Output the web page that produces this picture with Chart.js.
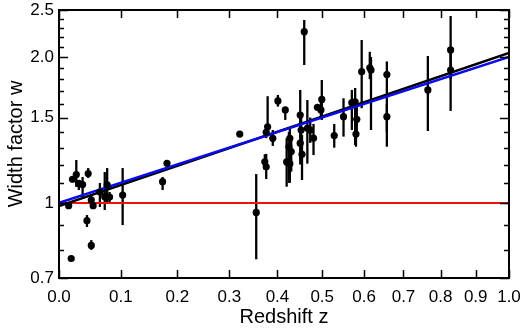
<!DOCTYPE html>
<html>
<head>
<meta charset="utf-8">
<script src="https://cdn.jsdelivr.net/npm/chart.js@4.4.1/dist/chart.umd.min.js"></script>
<style>
  html, body { margin: 0; padding: 0; background: #fff; }
  canvas { display: block; }
</style>
</head>
<body>
<canvas id="c" width="524" height="328"></canvas>
<script>
// redshift z, width factor w and the error bar ends
const zVals = [0.015, 0.019, 0.021, 0.027, 0.031, 0.037, 0.046, 0.044, 0.051, 0.051,
  0.054, 0.065, 0.073, 0.077, 0.081, 0.103, 0.173, 0.181, 0.321, 0.355,
  0.379, 0.376, 0.373, 0.376, 0.390, 0.401, 0.417, 0.427, 0.425, 0.420,
  0.427, 0.430, 0.450, 0.452, 0.450, 0.454, 0.459, 0.466, 0.4725, 0.480,
  0.489, 0.499, 0.497, 0.528, 0.550, 0.570, 0.578, 0.582, 0.580, 0.594,
  0.614, 0.617, 0.657, 0.657, 0.765, 0.828, 0.828];
const wVals = [0.987, 0.768, 1.119, 1.144, 1.097, 1.091, 1.150, 0.919, 0.817, 1.014,
  0.987, 1.053, 1.030, 1.089, 1.028, 1.038, 1.106, 1.207, 1.387, 0.956,
  1.436, 1.398, 1.216, 1.187, 1.359, 1.623, 1.555, 1.359, 1.306, 1.215,
  1.205, 1.276, 1.518, 1.414, 1.328, 1.260, 2.255, 1.425, 1.414, 1.360,
  1.575, 1.635, 1.555, 1.377, 1.506, 1.610, 1.617, 1.488, 1.387, 1.865,
  1.900, 1.880, 1.840, 1.506, 1.710, 2.068, 1.880];
const wLow = [0.975, 0.768, 1.108, 1.079, 1.063, 1.028, 1.126, 0.892, 0.800, 0.981,
  0.975, 0.981, 0.967, 1.000, 1.004, 0.900, 1.063, 1.200, 1.370, 0.765,
  1.400, 1.360, 1.170, 1.120, 1.311, 1.580, 1.483, 1.290, 1.100, 1.080,
  1.100, 1.160, 1.400, 1.280, 1.200, 1.115, 1.925, 1.205, 1.330, 1.255,
  1.550, 1.483, 1.500, 1.300, 1.370, 1.414, 1.317, 1.400, 1.306, 1.568,
  1.800, 1.414, 1.306, 1.400, 1.407, 1.800, 1.548];
const wHigh = [0.998, 0.768, 1.130, 1.226, 1.115, 1.131, 1.180, 0.944, 0.838, 1.038,
  0.998, 1.099, 1.158, 1.180, 1.053, 1.180, 1.131, 1.214, 1.405, 1.147,
  1.660, 1.440, 1.260, 1.262, 1.414, 1.670, 1.570, 1.430, 1.400, 1.360,
  1.300, 1.360, 1.710, 1.520, 1.450, 1.380, 2.384, 1.630, 1.500, 1.455,
  1.600, 1.793, 1.610, 1.455, 1.644, 1.710, 1.726, 1.580, 1.470, 2.168,
  2.050, 2.000, 1.958, 1.600, 2.009, 2.430, 2.050];

// model lines, end points at z = 0 and z = 1
const lineZ = [0, 1];
const blackW = [0.985, 2.04];
const blueW = [1.0, 2.0];
const redW = [1.0, 1.0];

// axis ticks
const xTicks = [0.0, 0.1, 0.2, 0.3, 0.4, 0.5, 0.6, 0.7, 0.8, 0.9, 1.0];
const yTicks = [0.7, 1, 1.5, 2, 2.5];
const yTickLabels = ['0.7', '1', '1.5', '2.0', '2.5'];
const yMinor = [0.8, 0.9, 1.1, 1.2, 1.3, 1.4, 1.6, 1.7, 1.8, 1.9, 2.1, 2.2, 2.3, 2.4];

const FONT = '"Liberation Sans", Arial, Helvetica, sans-serif';
const pts = (xs, ys) => xs.map((z, i) => ({ x: 1 + z, y: ys[i] }));

// error bars under everything, frame and inward ticks on top
const decor = {
  id: 'decor',
  beforeDatasetsDraw(chart) {
    const { ctx, scales: { x, y } } = chart;
    ctx.save();
    ctx.strokeStyle = '#000'; ctx.lineWidth = 2.3;
    zVals.forEach((z, i) => {
      if (wHigh[i] === wLow[i]) return;
      const px = x.getPixelForValue(1 + z);
      ctx.beginPath();
      ctx.moveTo(px, y.getPixelForValue(wHigh[i]));
      ctx.lineTo(px, y.getPixelForValue(wLow[i]));
      ctx.stroke();
    });
    ctx.restore();
  },
  afterDatasetsDraw(chart) {
    const { ctx, chartArea: a, scales: { x, y } } = chart;
    ctx.save();
    ctx.strokeStyle = '#000'; ctx.lineWidth = 1.5;
    ctx.beginPath();
    xTicks.forEach(v => {
      const px = Math.round(x.getPixelForValue(1 + v)) + 0.5;
      ctx.moveTo(px, a.bottom); ctx.lineTo(px, a.bottom - 8);
      ctx.moveTo(px, a.top); ctx.lineTo(px, a.top + 8);
    });
    yTicks.concat(yMinor).forEach(v => {
      const len = yTicks.includes(v) ? 9 : 5;
      const py = Math.round(y.getPixelForValue(v)) + 0.5;
      ctx.moveTo(a.left, py); ctx.lineTo(a.left + len, py);
      ctx.moveTo(a.right, py); ctx.lineTo(a.right - len, py);
    });
    ctx.stroke();
    ctx.lineWidth = 2;
    ctx.strokeRect(a.left, a.top, a.right - a.left, a.bottom - a.top);
    ctx.restore();
  }
};

new Chart(document.getElementById('c'), {
  type: 'scatter',
  data: {
    datasets: [
      { data: pts(zVals, wVals), backgroundColor: '#000', borderColor: '#000',
        pointRadius: 3.6, pointBorderWidth: 0 },
      { data: pts(lineZ, blueW), showLine: true, pointRadius: 0, borderColor: '#0a0af0', borderWidth: 2.5 },
      { data: pts(lineZ, blackW), showLine: true, pointRadius: 0, borderColor: '#000', borderWidth: 2.5 },
      { data: pts(lineZ, redW), showLine: true, pointRadius: 0, borderColor: '#f01010', borderWidth: 2 }
    ]
  },
  options: {
    responsive: false,
    animation: false,
    layout: { padding: { top: 10, right: 15, left: 0, bottom: 0 } },
    plugins: { legend: { display: false }, tooltip: { enabled: false } },
    scales: {
      x: {
        type: 'logarithmic', min: 1, max: 2,
        grid: { display: false, drawTicks: false }, border: { display: false },
        afterBuildTicks: s => { s.ticks = xTicks.map(v => ({ value: 1 + v })); },
        afterFit: s => { s.height = 50; s.paddingLeft = 0; s.paddingRight = 0; },
        ticks: {
          autoSkip: false, maxRotation: 0, padding: 9, color: '#000',
          font: { family: FONT, size: 17 },
          callback: v => (v - 1).toFixed(1)
        },
        title: { display: true, text: 'Redshift z', color: '#000',
          font: { family: FONT, size: 20 }, padding: { top: 0, bottom: -1 } }
      },
      y: {
        type: 'logarithmic', min: 0.7, max: 2.5,
        grid: { display: false, drawTicks: false }, border: { display: false },
        afterBuildTicks: s => { s.ticks = yTicks.map(v => ({ value: v })); },
        afterFit: s => { s.width = 59; s.paddingTop = 0; s.paddingBottom = 0; },
        ticks: {
          autoSkip: false, padding: 5, color: '#000',
          font: { family: FONT, size: 17 },
          callback: (v, i) => yTickLabels[i]
        },
        title: { display: true, text: 'Width factor w', color: '#000',
          font: { family: FONT, size: 20 }, padding: { top: 4, bottom: 0 } }
      }
    }
  },
  plugins: [decor]
});
</script>
</body>
</html>
